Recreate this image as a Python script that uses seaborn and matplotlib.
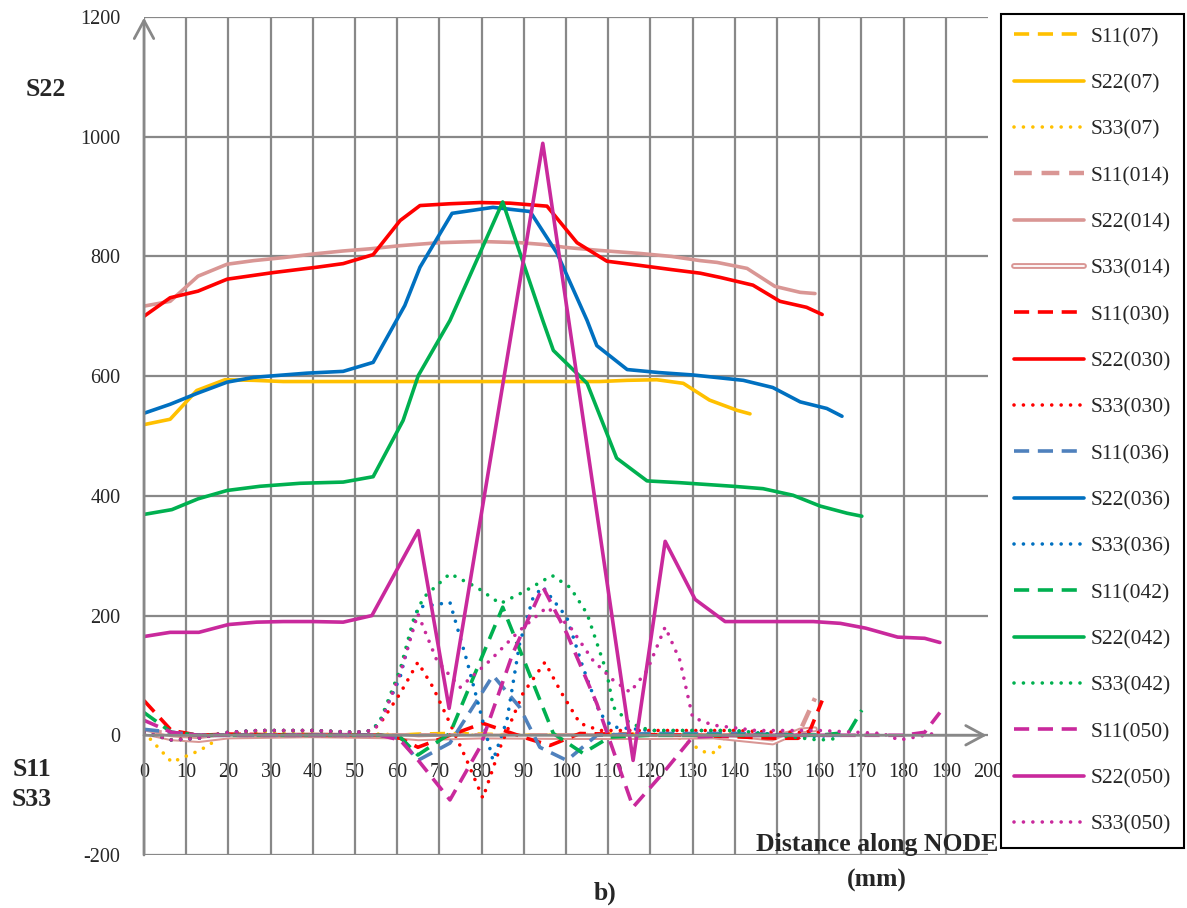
import numpy as np
import pandas as pd
import matplotlib
matplotlib.use("Agg")
import matplotlib.pyplot as plt
import matplotlib.patheffects as pe
import seaborn as sns

# ---- data: stresses along the node, per specimen ----
# specimen 07
x07_s11 = [0, 6.5, 13, 20, 60, 65, 72, 80, 90, 100, 110, 120, 130, 137, 143.6]
s11_07 = [5, 3, 0, 0, 0, 2, 3, 2, 0, 0, 2, 1, 0, 0, 0]
x07_s22 = [0, 6.2, 12.5, 19.2, 26, 33, 40, 50, 60, 70, 80, 90, 100, 108, 114.5, 121.5, 127.8, 134, 140.5, 143.6]
s22_07 = [519, 528, 576, 594, 593, 591, 591, 591, 591, 591, 591, 591, 591, 591, 593, 594, 588, 560, 543, 537]
x07_s33 = [0, 6.6, 13.3, 19.7, 27, 40, 55, 65, 80, 100, 115, 121, 127, 133.4, 135.8, 138, 143.6]
s33_07 = [5, -45, -25, 3, 5, 3, 2, 0, 0, 0, 2, 0, -5, -30, -28, 3, 0]

# specimen 014
x014_s11 = [0, 6.5, 13, 20, 40, 60, 80, 100, 120, 140, 150, 155.5, 159]
s11_014 = [8, 3, 0, 0, 0, 0, 0, 0, 0, 0, 0, 8, 62]
x014_s22 = [0, 6.2, 12.8, 19.7, 26, 33, 40, 47, 54, 60.7, 70, 79.6, 89, 94.5, 100, 108, 117.5, 125,
            131.8, 135.8, 142.9, 149.5, 155.5, 159]
s22_014 = [717, 725, 767, 787, 793, 798, 804, 809, 813, 818, 823, 825, 823, 820, 815, 810, 805, 800,
           793, 790, 780, 750, 740, 738]
x014_s33 = [0, 6.5, 13, 20, 40, 60, 65, 80, 100, 120, 135, 149, 155.5, 159]
s33_014 = [5, -5, -8, -2, 0, -2, -5, -2, -3, -3, -2, -12, 8, 10]

# specimen 030
x030_s11 = [0, 6.5, 13, 20, 40, 56, 60.7, 64.9, 72.5, 80.3, 90.7, 96.2, 103.3, 110, 130, 150, 155, 157.8, 160.7]
s11_030 = [58, 8, 0, 2, 0, 0, -5, -20, 0, 20, -5, -17, 3, 2, 0, -5, -5, 8, 58]
x030_s22 = [0, 6.2, 12.8, 19.7, 30.6, 41, 47.2, 54.3, 60.7, 65.4, 72.5, 79.6, 86.7, 95.5, 102.6, 109.7,
            117.5, 125, 131.8, 136.5, 144.3, 150.7, 157, 160.7]
s22_030 = [700, 731, 742, 762, 773, 782, 788, 803, 860, 885, 888, 890, 889, 884, 823, 792,
           785, 778, 772, 765, 752, 725, 715, 703]
x030_s33 = [0, 6.6, 13, 20, 27, 40, 50, 54, 56, 60.7, 64.9, 68.5, 72.5, 76.5, 80.3, 84.4, 89.8, 95, 99,
            103.3, 108, 120, 140, 150, 160.7]
s33_030 = [5, -8, -3, 5, 8, 8, 5, 8, 20, 70, 122, 80, 20, -42, -105, -20, 70, 122, 70,
           20, 8, 8, 8, 5, 5]

# specimen 036
x036_s11 = [0, 6.5, 13, 20, 40, 56, 60.7, 64.9, 72.5, 82.7, 89, 93.8, 100.2, 107.3, 120, 140, 160, 165.4]
s11_036 = [10, 5, 0, 0, 0, 0, -5, -42, -13, 100, 47, -20, -42, 0, 3, 3, 0, 0]
x036_s22 = [0, 6.2, 12.5, 19.7, 26, 38.6, 47.2, 54.3, 61.8, 65.4, 73, 82.7, 91.5, 97.9, 105, 107.3,
            114.5, 122, 130, 142, 149, 155.5, 161.8, 165.4]
s22_036 = [538, 553, 571, 590, 598, 605, 608, 623, 718, 782, 872, 882, 875, 805, 693, 651,
           611, 606, 602, 593, 581, 557, 546, 533]
x036_s33 = [0, 6.6, 13, 20, 27, 40, 50, 54, 56, 60.7, 64.9, 72.5, 76.5, 79.6, 82.7, 86, 89, 92.2, 94.5,
            100.2, 104, 108, 111, 120, 140, 155, 165.4]
s33_036 = [5, -8, -5, 5, 8, 8, 5, 8, 25, 97, 214, 222, 125, 42, -42, 25, 153, 230, 248,
           197, 114, 37, 14, 8, 8, -3, 0]

# specimen 042
x042_s11 = [0, 6.5, 13, 20, 40, 56, 60.7, 64.9, 72.5, 85, 97, 104, 110.4, 120, 140, 160, 167, 170.1]
s11_042 = [38, 5, 0, 0, 0, 0, -3, -33, 3, 214, 3, -30, -3, 0, 0, 0, 5, 42]
x042_s22 = [0, 6.6, 12.8, 19.7, 27.5, 37, 47.2, 54.3, 61.4, 65, 72.5, 85, 94.5, 97, 105, 112, 119.2, 127,
            139.6, 146.7, 153.8, 160.2, 166.6, 170.1]
s22_042 = [369, 377, 395, 409, 416, 421, 423, 432, 526, 601, 693, 891, 693, 643, 588, 463, 425, 422,
           416, 412, 401, 383, 371, 366]
x042_s33 = [0, 6.6, 13, 20, 27, 40, 50, 54, 56, 60.7, 63.8, 66.2, 72.5, 78.9, 84.4, 89.8, 96.7, 101, 105,
            109.7, 111.2, 115.2, 120, 140, 150, 160, 165]
s33_042 = [5, -8, -5, 5, 8, 8, 5, 8, 25, 110, 192, 230, 270, 247, 220, 239, 267, 247, 203,
           104, 47, 20, 8, 8, 0, -8, -5]

# specimen 050
x050_s11 = [0, 6.5, 13, 20, 40, 56, 60.7, 65, 72.5, 79.6, 87.4, 94.5, 100.2, 107.3, 115.9, 123, 130,
            140, 160, 180, 185, 188.6]
s11_050 = [25, 5, 0, 0, 0, 0, -8, -42, -108, -20, 137, 248, 170, 53, -120, -63, -3,
           0, 0, 0, 5, 38]
x050_s22 = [0, 6.2, 13, 20, 26.7, 33, 40, 47.2, 54, 65, 72.3, 94.5, 115.9, 123.5, 130.6, 137.7, 158.6,
            165, 171, 178.6, 185, 188.6]
s22_050 = [165, 172, 172, 185, 189, 190, 190, 189, 200, 342, 45, 989, -42, 324, 227, 190, 190,
           187, 179, 164, 162, 155]
x050_s33 = [0, 6.6, 13, 20, 27, 40, 50, 54, 56, 60.7, 64.9, 69.4, 74.9, 82, 89, 95.5, 101, 106.4, 111.2,
            115.2, 119.2, 123.5, 127, 130, 134.8, 145, 160, 175, 179, 185, 188.6]
s33_050 = [5, -8, -5, 5, 8, 8, 5, 8, 20, 103, 203, 125, 80, 125, 175, 214, 181, 125, 92,
           72, 108, 181, 125, 30, 17, 8, 8, 3, -8, 0, 5]

x_ticks = list(range(0, 201, 10))
y_ticks = list(range(-200, 1201, 200))

# ---- styling ----
sns.set_style("white")
plt.rcParams["font.family"] = ["Liberation Serif", "DejaVu Serif"]
plt.rcParams["axes.unicode_minus"] = False

GOLD, ROSE, RED = "#FFC000", "#D99694", "#FF0000"
BLUE, STEEL, GREEN, MAG = "#0070C0", "#4F81BD", "#00B050", "#C9299C"
GRID = "#888888"

LW = 2.6
DASH = (0, (4.2, 2.4))
DOT = (0, (0.01, 2.6))

series = [
    ("S11(07)", x07_s11, s11_07, GOLD, "dash"),
    ("S22(07)", x07_s22, s22_07, GOLD, "solid"),
    ("S33(07)", x07_s33, s33_07, GOLD, "dot"),
    ("S11(014)", x014_s11, s11_014, ROSE, "dash_thick"),
    ("S22(014)", x014_s22, s22_014, ROSE, "solid"),
    ("S33(014)", x014_s33, s33_014, ROSE, "double"),
    ("S11(030)", x030_s11, s11_030, RED, "dash"),
    ("S22(030)", x030_s22, s22_030, RED, "solid"),
    ("S33(030)", x030_s33, s33_030, RED, "dot"),
    ("S11(036)", x036_s11, s11_036, STEEL, "dash"),
    ("S22(036)", x036_s22, s22_036, BLUE, "solid"),
    ("S33(036)", x036_s33, s33_036, BLUE, "dot"),
    ("S11(042)", x042_s11, s11_042, GREEN, "dash"),
    ("S22(042)", x042_s22, s22_042, GREEN, "solid"),
    ("S33(042)", x042_s33, s33_042, GREEN, "dot"),
    ("S11(050)", x050_s11, s11_050, MAG, "dash"),
    ("S22(050)", x050_s22, s22_050, MAG, "solid"),
    ("S33(050)", x050_s33, s33_050, MAG, "dot"),
]

fig = plt.figure(figsize=(11.87, 9.08), dpi=100)
ax = fig.add_axes([144 / 1187, 53 / 908, (988 - 144) / 1187, (855 - 17) / 908])
ax.set_xlim(0, 200)
ax.set_ylim(-200, 1200)

for name, xs, ys, col, kind in series:
    df = pd.DataFrame({"x": xs, "y": ys})
    kw = dict(data=df, x="x", y="y", ax=ax, sort=False, estimator=None, label=name, color=col)
    if kind == "solid":
        sns.lineplot(**kw, lw=LW, solid_capstyle="round", solid_joinstyle="round")
    elif kind == "dash":
        sns.lineplot(**kw, lw=LW, linestyle=DASH)
    elif kind == "dash_thick":
        sns.lineplot(**kw, lw=3.2, linestyle=(0, (4.0, 2.2)))
    elif kind == "dot":
        sns.lineplot(**kw, lw=LW, linestyle=DOT, dash_capstyle="round")
    elif kind == "double":
        kw["color"] = "white"
        sns.lineplot(**kw, lw=1.3,
                     path_effects=[pe.Stroke(linewidth=4.2, foreground=ROSE), pe.Normal()])

if ax.get_legend() is not None:
    ax.get_legend().remove()

# grid and axes: vertical grid stops at 190, horizontal grid spans the full width
ax.set_xticks(x_ticks)
ax.set_yticks(y_ticks)
ax.xaxis.remove_overlapping_locs = False
ax.set_xticks(x_ticks[:-1], minor=True)
ax.grid(False)
ax.grid(True, axis="y", which="major", color=GRID, lw=1.6)
ax.grid(True, axis="x", which="minor", color=GRID, lw=1.6)
ax.set_axisbelow(True)
for s in ax.spines.values():
    s.set_visible(False)
ax.spines["bottom"].set_position(("data", 0))
ax.tick_params(axis="both", which="both", length=0)
ax.tick_params(axis="x", which="minor", labelbottom=False)
ax.tick_params(axis="x", labelsize=14.5, pad=20)
ax.tick_params(axis="y", labelsize=14.5, pad=17)
ax.set_xlabel("")
ax.set_ylabel("")

arrow = dict(arrowstyle="->,head_length=0.65,head_width=0.35", color=GRID, lw=2,
             mutation_scale=20, shrinkA=0, shrinkB=0)
ax.annotate("", xy=(0, 1199), xytext=(0, -200), arrowprops=arrow, annotation_clip=False)
ax.annotate("", xy=(199.7, 0), xytext=(0, 0), arrowprops=arrow, annotation_clip=False)

# axis captions
bold = dict(fontsize=18.5, fontweight="bold", ha="center", va="center")
fig.text(46 / 1187, 1 - 90 / 908, "S22", **bold)
fig.text(32 / 1187, 1 - 769 / 908, "S11", **bold)
fig.text(32 / 1187, 1 - 800 / 908, "S33", **bold)
fig.text(877 / 1187, 1 - 845 / 908, "Distance along NODE", **bold)
fig.text(877 / 1187, 1 - 880 / 908, "(mm)", **bold)
fig.text(605 / 1187, 1 - 893 / 908, "b)", **bold)

handles, labels = ax.get_legend_handles_labels()
leg = fig.legend(handles, labels, loc="upper left", bbox_to_anchor=(1001 / 1187, 1 - 14 / 908),
                 frameon=True, fancybox=False, edgecolor="black", framealpha=1,
                 handlelength=3.25, handletextpad=0.3, labelspacing=1.22, borderpad=0.6,
                 borderaxespad=0, prop={"size": 15.5})
leg.get_frame().set_linewidth(1.5)
leg.set_zorder(5)

fig.savefig("out.png", dpi=100)
